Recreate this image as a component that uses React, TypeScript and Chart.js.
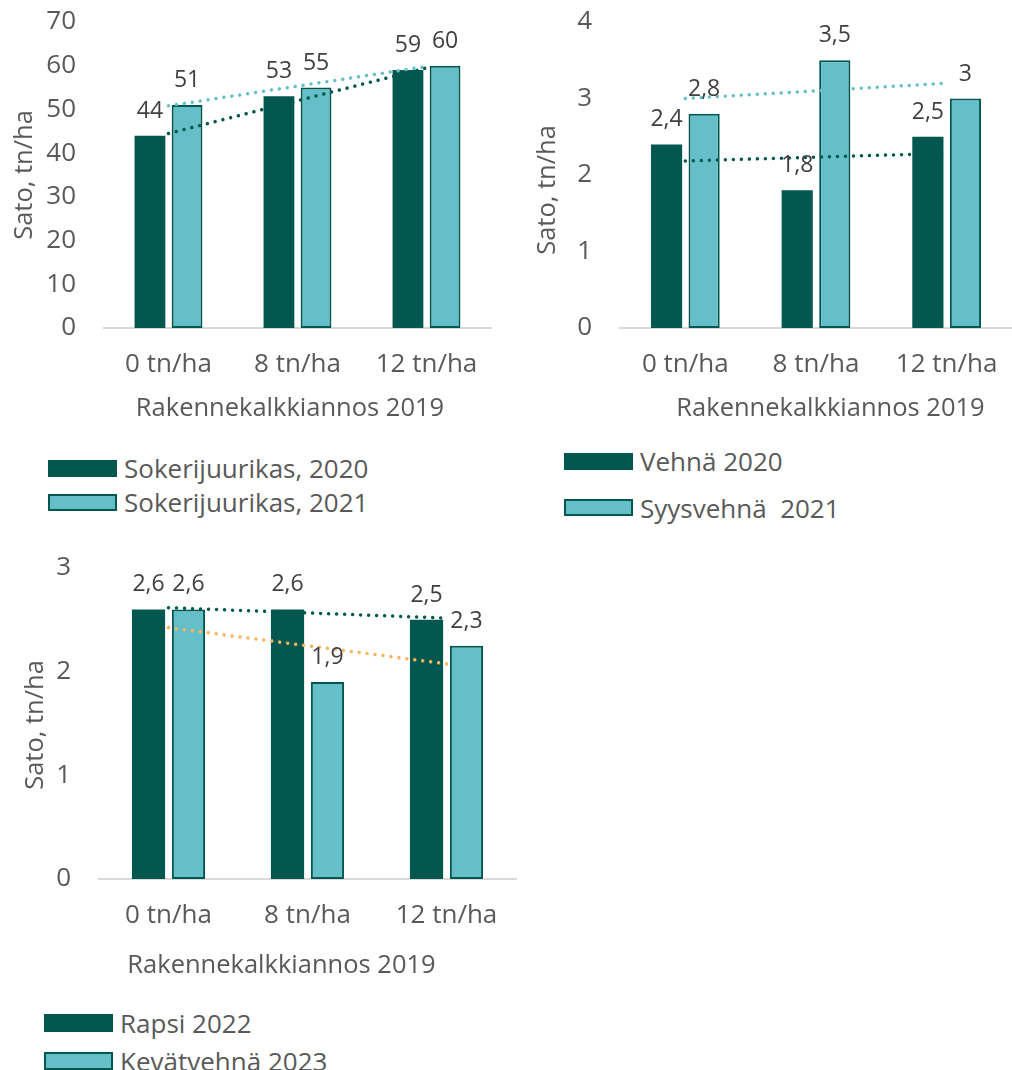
import React, { useEffect, useRef } from "react";
import { Chart, registerables } from "chart.js";

Chart.register(...registerables);

const FONT = "'Open Sans', 'Noto Sans', sans-serif";
const TEXT = "#595959";
const LABEL_TEXT = "#404040";
const DARK = "#02574F";
const LIGHT = "#64BFC9";
const ORANGE = "#F8B460";
const AXIS = "#D9D9D9";
const TEXT_SIZE = 26;
const LABEL_SIZE = 23;

// Structural lime dose applied in 2019
const doses = ["0 tn/ha", "8 tn/ha", "12 tn/ha"];

// Sugar beet yields, t/ha
const sugarBeet2020 = [44, 53, 59];
const sugarBeet2021 = [51, 55, 60];
const sugarBeetTicks = [0, 10, 20, 30, 40, 50, 60, 70];

// Wheat yields, t/ha
const wheat2020 = [2.4, 1.8, 2.5];
const winterWheat2021 = [2.8, 3.5, 3];
const wheatTicks = [0, 1, 2, 3, 4];

// Rapeseed and spring wheat yields, t/ha
const rapeseed2022 = [2.6, 2.6, 2.5];
const springWheat2023 = [2.6, 1.9, 2.25];
const rapeTicks = [0, 1, 2, 3];

const xTitle = "Rakennekalkkiannos 2019";
const yTitle = "Sato, tn/ha";

// Finnish number format, at most one decimal
const formatValue = (v: number) =>
  (Math.round(v * 10) / 10).toFixed(1).replace(/\.0$/, "").replace(".", ",");

// Least-squares linear trend evaluated at each category
function linearTrend(values: number[]): number[] {
  const n = values.length;
  const mx = (n - 1) / 2;
  const my = values.reduce((a, b) => a + b, 0) / n;
  let sxy = 0;
  let sxx = 0;
  values.forEach((v, i) => {
    sxy += (i - mx) * (v - my);
    sxx += (i - mx) * (i - mx);
  });
  const slope = sxy / sxx;
  return values.map((_, i) => my + slope * (i - mx));
}

type Series = {
  label: string;
  values: number[];
  fill: string;
  border: string;
  borderWidth: number;
  trend: string;
};

type PanelSpec = {
  id: string;
  left: number;
  top: number;
  width: number;
  height: number;
  padRight: number;
  yWidth: number;
  xHeight: number;
  ticks: number[];
  series: Series[];
  titles: { xDx: number; xBaseline: number; yBaseline: number; yDy: number };
  legend: { left: number; boxH: number; rows: number[] };
};

const valueLabels = {
  id: "valueLabels",
  afterDatasetsDraw(chart: any) {
    const ctx = chart.ctx;
    ctx.save();
    ctx.font = `${LABEL_SIZE}px ${FONT}`;
    ctx.fillStyle = LABEL_TEXT;
    ctx.textAlign = "center";
    ctx.textBaseline = "alphabetic";
    chart.data.datasets.forEach((ds: any, i: number) => {
      if (ds.type !== "bar") return;
      chart.getDatasetMeta(i).data.forEach((el: any, j: number) => {
        ctx.fillText(formatValue(ds.data[j]), el.x, el.y - 18);
      });
    });
    ctx.restore();
  },
};

const axisTitles = {
  id: "axisTitles",
  afterDraw(chart: any, _args: any, opts: any) {
    const { ctx, chartArea: a } = chart;
    ctx.save();
    ctx.font = `25.5px ${FONT}`;
    ctx.fillStyle = TEXT;
    ctx.textAlign = "center";
    ctx.textBaseline = "alphabetic";
    ctx.fillText(opts.x, (a.left + a.right) / 2 + opts.xDx, a.bottom + opts.xBaseline);
    ctx.translate(a.left - opts.yBaseline, (a.top + a.bottom) / 2 + opts.yDy);
    ctx.rotate(-Math.PI / 2);
    ctx.fillText(opts.y, 0, 0);
    ctx.restore();
  },
};

const panels: PanelSpec[] = [
  {
    id: "sugarbeet",
    left: 0,
    top: 0,
    width: 500,
    height: 428,
    padRight: 9,
    yWidth: 104,
    xHeight: 100,
    ticks: sugarBeetTicks,
    series: [
      { label: "Sokerijuurikas, 2020", values: sugarBeet2020, fill: DARK, border: DARK, borderWidth: 0, trend: DARK },
      { label: "Sokerijuurikas, 2021", values: sugarBeet2021, fill: LIGHT, border: DARK, borderWidth: 2, trend: LIGHT },
    ],
    titles: { xDx: -7.5, xBaseline: 88, yBaseline: 72, yDy: 0 },
    legend: { left: 48, boxH: 17, rows: [468, 502] },
  },
  {
    id: "wheat",
    left: 520,
    top: 0,
    width: 492,
    height: 428,
    padRight: 0,
    yWidth: 100,
    xHeight: 100,
    ticks: wheatTicks,
    series: [
      { label: "Vehnä 2020", values: wheat2020, fill: DARK, border: DARK, borderWidth: 0, trend: DARK },
      { label: "Syysvehnä  2021", values: winterWheat2021, fill: LIGHT, border: DARK, borderWidth: 2, trend: LIGHT },
    ],
    titles: { xDx: 14.5, xBaseline: 88, yBaseline: 65, yDy: 15 },
    legend: { left: 564, boxH: 17, rows: [461, 507.5] },
  },
  {
    id: "rapeseed",
    left: 0,
    top: 546,
    width: 520,
    height: 433,
    padRight: 4,
    yWidth: 99,
    xHeight: 100,
    ticks: rapeTicks,
    series: [
      { label: "Rapsi 2022", values: rapeseed2022, fill: DARK, border: DARK, borderWidth: 0, trend: DARK },
      { label: "Kevätvehnä 2023", values: springWheat2023, fill: LIGHT, border: DARK, borderWidth: 2, trend: ORANGE },
    ],
    titles: { xDx: -26, xBaseline: 94, yBaseline: 56, yDy: 1.5 },
    legend: { left: 44, boxH: 18, rows: [1022.5, 1061] },
  },
];

function buildConfig(spec: PanelSpec): any {
  const bars = spec.series.map((s) => ({
    type: "bar",
    label: s.label,
    data: s.values,
    backgroundColor: s.fill,
    borderColor: s.border,
    borderWidth: s.borderWidth,
    borderSkipped: false,
    categoryPercentage: 0.575,
    barPercentage: 0.83,
    order: 1,
  }));
  const trends = spec.series.map((s) => ({
    type: "line",
    label: `${s.label} (trendi)`,
    data: linearTrend(s.values),
    borderColor: s.trend,
    borderWidth: 3.5,
    borderDash: [0.01, 8],
    borderCapStyle: "round",
    pointRadius: 0,
    fill: false,
    tension: 0,
    order: 0,
  }));
  const tickFont = { family: FONT, size: TEXT_SIZE };
  return {
    type: "bar",
    data: { labels: doses, datasets: [...bars, ...trends] },
    options: {
      responsive: false,
      animation: false,
      devicePixelRatio: 1,
      events: [],
      layout: { padding: { top: 22, right: spec.padRight, left: 0, bottom: 0 } },
      plugins: {
        legend: { display: false },
        tooltip: { enabled: false },
        axisTitles: { x: xTitle, y: yTitle, ...spec.titles },
      },
      scales: {
        x: {
          grid: { display: false, drawTicks: false },
          border: { display: true, color: AXIS, width: 2 },
          ticks: { padding: 21, color: TEXT, font: tickFont, maxRotation: 0 },
          afterFit: (s: any) => {
            s.height = spec.xHeight;
            s.paddingLeft = 0;
            s.paddingRight = 0;
          },
        },
        y: {
          min: spec.ticks[0],
          max: spec.ticks[spec.ticks.length - 1],
          grid: { display: false, drawTicks: false },
          border: { display: false },
          ticks: { padding: 28, color: TEXT, font: tickFont, callback: (v: any) => formatValue(Number(v)) },
          afterBuildTicks: (s: any) => {
            s.ticks = spec.ticks.map((v) => ({ value: v }));
          },
          afterFit: (s: any) => {
            s.width = spec.yWidth;
            s.paddingTop = 0;
            s.paddingBottom = 0;
          },
        },
      },
    },
    plugins: [valueLabels, axisTitles],
  };
}

function Legend({ spec }: { spec: PanelSpec }) {
  return (
    <>
      {spec.series.map((s, i) => (
        <div
          key={s.label}
          style={{
            position: "absolute",
            left: spec.legend.left,
            top: spec.legend.rows[i] - 20,
            height: 40,
            display: "flex",
            alignItems: "center",
            whiteSpace: "pre",
          }}
        >
          <span
            style={{
              display: "inline-block",
              width: 69,
              height: spec.legend.boxH,
              boxSizing: "border-box",
              background: s.fill,
              border: `2px solid ${s.border}`,
            }}
          />
          <span style={{ marginLeft: 7, font: `${TEXT_SIZE}px ${FONT}`, lineHeight: "40px", color: TEXT }}>
            {s.label}
          </span>
        </div>
      ))}
    </>
  );
}

function Panel({ spec }: { spec: PanelSpec }) {
  const ref = useRef<HTMLCanvasElement>(null);
  useEffect(() => {
    if (!ref.current) return;
    const chart = new Chart(ref.current, buildConfig(spec));
    return () => chart.destroy();
  }, [spec]);
  return (
    <>
      <canvas
        ref={ref}
        width={spec.width}
        height={spec.height}
        style={{ position: "absolute", left: spec.left, top: spec.top, width: spec.width, height: spec.height }}
      />
      <Legend spec={spec} />
    </>
  );
}

export default function App() {
  return (
    <div
      style={{
        position: "absolute",
        left: 0,
        top: 0,
        width: 1012,
        height: 1070,
        background: "#ffffff",
        overflow: "hidden",
      }}
    >
      {panels.map((p) => (
        <Panel key={p.id} spec={p} />
      ))}
    </div>
  );
}
